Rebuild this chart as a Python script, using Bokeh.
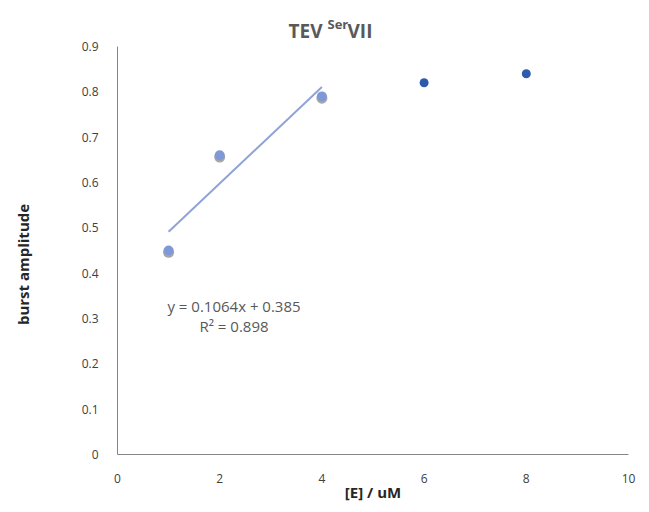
import math
from bokeh.plotting import figure
from bokeh.models import Range1d, FixedTicker, Label
from bokeh.embed import file_html
from bokeh.resources import INLINE

# data
fit_x = [1, 2, 4]
fit_y = [0.45, 0.66, 0.79]
sat_x = [6, 8]
sat_y = [0.82, 0.84]
slope = 0.1064
intercept = 0.385
r2 = 0.898
x_ticks = [0, 2, 4, 6, 8, 10]
y_ticks = [0, 0.1, 0.2, 0.3, 0.4, 0.5, 0.6, 0.7, 0.8, 0.9]
y_tick_labels = ["0", "0.1", "0.2", "0.3", "0.4", "0.5", "0.6", "0.7", "0.8", "0.9"]

FONT = "Open Sans"
GRAY = "#595959"
TICK = "#404040"

px_x = 10 / 511.0
px_y = 0.9 / 408.0
p = figure(width=649, height=512, output_backend="svg", toolbar_location=None,
           x_range=Range1d(-117 * px_x, 10 + 21 * px_x),
           y_range=Range1d(-58 * px_y, 0.9 + 46 * px_y),
           min_border_left=0, min_border_right=0, min_border_top=0, min_border_bottom=0)
p.outline_line_color = None
p.grid.grid_line_color = None
p.background_fill_color = "white"
p.border_fill_color = "white"

for ax in (p.xaxis[0], p.yaxis[0]):
    ax.major_tick_line_color = None
    ax.minor_tick_line_color = None
    ax.axis_line_color = "#868686"
    ax.axis_line_width = 1
    ax.major_label_text_font = FONT
    ax.major_label_text_font_size = "12px"
    ax.major_label_text_color = TICK
    ax.fixed_location = 0

p.yaxis.bounds = (0, 0.9)
p.xaxis.bounds = (0, 10)
p.xaxis.ticker = FixedTicker(ticks=x_ticks)
p.yaxis.ticker = FixedTicker(ticks=y_ticks)
p.yaxis.major_label_overrides = {t: s for t, s in zip(y_ticks, y_tick_labels)}
p.xaxis.major_label_standoff = 13
p.yaxis.major_label_standoff = 13

# axis titles
p.add_layout(Label(x=0, y=0.45, text="burst amplitude", angle=math.pi / 2, x_offset=-95,
                   y_offset=-14, text_align="center", text_baseline="middle", text_font=FONT,
                   text_font_style="bold", text_font_size="15px", text_color="#262626"))
p.add_layout(Label(x=5, y=0, text="[E] / uM", y_offset=-37, text_align="center",
                   text_baseline="middle", text_font=FONT, text_font_style="bold",
                   text_font_size="15px", text_color="#262626"))

# trendline over fitted range
tx = [min(fit_x), max(fit_x)]
ty = [slope * v + intercept for v in tx]
p.line(tx, ty, line_color="#8FA3D9", line_width=2)

# shadows
p.scatter(fit_x, [v - 0.004 for v in fit_y], size=11, fill_color="#202020", fill_alpha=0.4,
          line_color=None)
p.scatter(fit_x, fit_y, size=10, fill_color="#7F98D6", line_color=None)
p.scatter(sat_x, sat_y, size=9, fill_color="#2E5AAC", line_color=None)

# equation
p.add_layout(Label(x=2.28, y=0.3, text=f"y = {slope}x + {intercept}", text_align="center",
                   text_baseline="middle", text_font=FONT, text_font_size="15px",
                   text_color=GRAY, y_offset=13))
p.add_layout(Label(x=2.28, y=0.3, text=f"R\u00b2 = {r2}", text_align="center",
                   text_baseline="middle", text_font=FONT, text_font_size="15px",
                   text_color=GRAY, y_offset=-7))

# title pieces
p.add_layout(Label(x=0, y=0.9, text="TEV", x_offset=171, y_offset=16, text_font=FONT,
                   text_font_style="bold", text_font_size="19px", text_color=GRAY,
                   text_baseline="alphabetic"))
p.add_layout(Label(x=0, y=0.9, text="Ser", x_offset=210, y_offset=23, text_font=FONT,
                   text_font_style="bold", text_font_size="13px", text_color=GRAY,
                   text_baseline="alphabetic"))
p.add_layout(Label(x=0, y=0.9, text="VII", x_offset=230, y_offset=16, text_font=FONT,
                   text_font_style="bold", text_font_size="19px", text_color=GRAY,
                   text_baseline="alphabetic"))

open("out.html", "w").write(file_html(p, INLINE))
